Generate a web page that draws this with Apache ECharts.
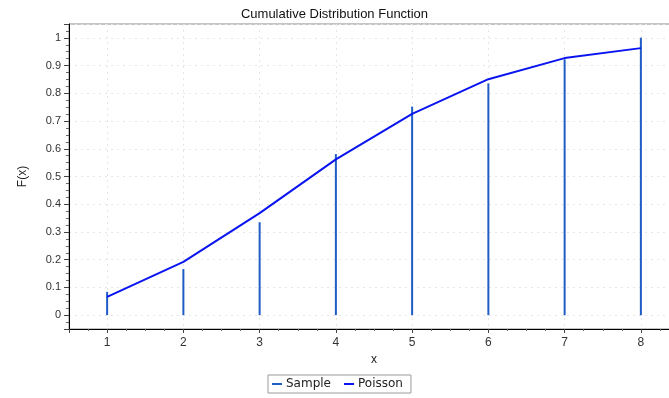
<!DOCTYPE html>
<html><head><meta charset="utf-8">
<script src="https://cdn.jsdelivr.net/npm/echarts@6/dist/echarts.min.js"></script>
<style>html,body{margin:0;padding:0;background:#fff}#c{width:669px;height:398px}</style>
</head><body><div id="c"></div>
<script>
const xValues = [1, 2, 3, 4, 5, 6, 7, 8];
const sampleValues = [0.084, 0.166, 0.335, 0.581, 0.752, 0.836, 0.923, 1.0];
const poissonValues = [0.066, 0.192, 0.368, 0.562, 0.726, 0.851, 0.927, 0.963];
const titleText = 'Cumulative Distribution Function';
const seriesNames = ['Sample', 'Poisson'];

const chart = echarts.init(document.getElementById('c'), null, {renderer: 'canvas'});
const FONT = 'Liberation Sans';
const linePath = 'path://M0,0 L10,0 L10,2 L0,2 Z';
chart.setOption({
  animation: false,
  backgroundColor: '#fff',
  title: {text: titleText, left: 'center', top: 3,
    textStyle: {fontFamily: FONT, fontSize: 13, fontWeight: 'normal', color: '#111'}},
  legend: {
    data: seriesNames.map(n => ({name: n, icon: linePath})),
    left: 268, top: 375, itemWidth: 12, itemHeight: 2, itemGap: 13,
    padding: [3, 8, 3, 4], borderColor: '#9a9a9a', borderWidth: 1, borderRadius: 0,
    textStyle: {fontFamily: 'DejaVu Sans', fontSize: 12, color: '#222', padding: [0, 0, 0, -2]}
  },
  grid: {left: 69, top: 24, width: 610, height: 305, show: true, borderColor: '#888', borderWidth: 1,
    backgroundColor: 'transparent', containLabel: false, outerBoundsMode: 'none'},
  xAxis: {
    type: 'value', min: 0.5, max: 8.5, splitNumber: 8,
    name: 'x', nameLocation: 'middle', nameGap: 22,
    nameTextStyle: {fontFamily: FONT, fontSize: 12, color: '#222'},
    axisLine: {show: true, onZero: false, lineStyle: {color: '#000', width: 1}},
    axisTick: {show: true, inside: false, length: 4, lineStyle: {color: '#444'}},
    minorTick: {show: true, splitNumber: 4, length: 2, lineStyle: {color: '#666'}},
    axisLabel: {fontFamily: FONT, fontSize: 12, color: '#333', margin: 8, showMinLabel: false, showMaxLabel: false},
    splitLine: {show: true, lineStyle: {color: '#e6e6e6', type: [2, 4]}}
  },
  yAxis: {
    type: 'value', min: -0.05, max: 1.05, splitNumber: 11,
    name: 'F(x)', nameLocation: 'middle', nameGap: 40, nameRotate: 90,
    nameTextStyle: {fontFamily: FONT, fontSize: 12, color: '#222'},
    axisLine: {show: true, onZero: false, lineStyle: {color: '#000', width: 1}},
    axisTick: {show: true, inside: false, length: 5, lineStyle: {color: '#444'}},
    minorTick: {show: true, splitNumber: 4, length: 3, lineStyle: {color: '#666'}},
    axisLabel: {fontFamily: FONT, fontSize: 11, color: '#333', margin: 8, showMinLabel: false, showMaxLabel: false},
    splitLine: {show: true, lineStyle: {color: '#e6e6e6', type: [2, 4]}}
  },
  series: [
    {name: seriesNames[0], type: 'bar', barWidth: 2, color: '#1f5cc6',
     itemStyle: {color: '#1f5cc6'},
     data: xValues.map((x, i) => [x, sampleValues[i]])},
    {name: seriesNames[1], type: 'line', color: '#0a14f0', symbol: 'none',
     lineStyle: {color: '#0a14f0', width: 2}, z: 3,
     data: xValues.map((x, i) => [x, poissonValues[i]])}
  ]
});
</script></body></html>
